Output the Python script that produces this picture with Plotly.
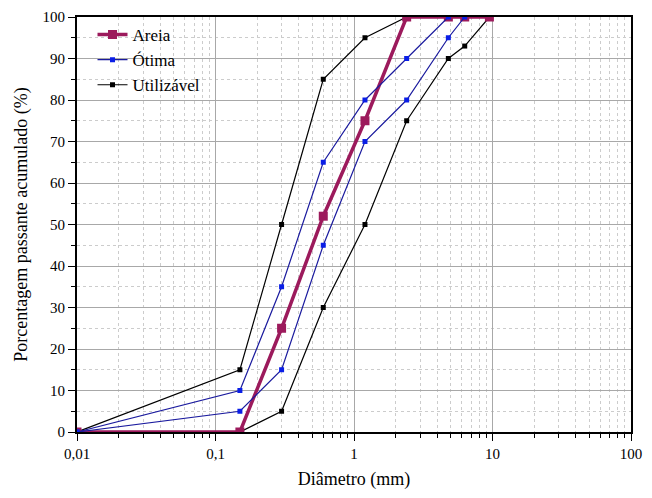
import plotly.graph_objects as go

# Data
areia_x = [0.01, 0.15, 0.3, 0.6, 1.2, 2.4, 4.8, 6.3, 9.5]
areia_y = [0, 0, 25, 52, 75, 100, 100, 100, 100]

otima_inf_x = [0.01, 0.15, 0.3, 0.6, 1.2, 2.4, 4.8, 6.3]
otima_inf_y = [0, 5, 15, 45, 70, 80, 95, 100]
otima_sup_x = [0.01, 0.15, 0.3, 0.6, 1.2, 2.4, 4.8]
otima_sup_y = [0, 10, 35, 65, 80, 90, 100]

util_inf_x = [0.01, 0.15, 0.3, 0.6, 1.2, 2.4, 4.8, 6.3, 9.5]
util_inf_y = [0, 0, 5, 30, 50, 75, 90, 93, 100]
util_sup_x = [0.01, 0.15, 0.3, 0.6, 1.2, 2.4]
util_sup_y = [0, 15, 50, 85, 95, 100]

x_tickvals = [0.01, 0.1, 1, 10, 100]
x_ticktext = ["0,01", "0,1", "1", "10", "100"]
y_tickvals = list(range(0, 101, 10))

PURPLE = "#9C1A5C"
BLUE_LINE = "#1A1A9E"
BLUE_MK = "#0A1EE6"

fig = go.Figure()

fig.add_trace(go.Scatter(x=util_sup_x, y=util_sup_y, mode="lines+markers", name="Utilizável",
                         legendgroup="u", legendrank=3,
                         line=dict(color="black", width=1.2),
                         marker=dict(symbol="square", size=5, color="black")))
fig.add_trace(go.Scatter(x=util_inf_x, y=util_inf_y, mode="lines+markers", name="Utilizável",
                         legendgroup="u", showlegend=False,
                         line=dict(color="black", width=1.2),
                         marker=dict(symbol="square", size=5, color="black")))
fig.add_trace(go.Scatter(x=areia_x, y=areia_y, mode="lines+markers", name="Areia",
                         legendrank=1,
                         line=dict(color=PURPLE, width=3.5),
                         marker=dict(symbol="square", size=9, color=PURPLE)))
fig.add_trace(go.Scatter(x=otima_sup_x, y=otima_sup_y, mode="lines+markers", name="Ótima",
                         legendgroup="o", legendrank=2,
                         line=dict(color=BLUE_LINE, width=1.2),
                         marker=dict(symbol="square", size=5, color=BLUE_MK)))
fig.add_trace(go.Scatter(x=otima_inf_x, y=otima_inf_y, mode="lines+markers", name="Ótima",
                         legendgroup="o", showlegend=False,
                         line=dict(color=BLUE_LINE, width=1.2),
                         marker=dict(symbol="square", size=5, color=BLUE_MK)))

font_family = "Liberation Serif"

# the page body adds an 8px margin on every side; size the figure so nothing scrolls
fig.update_layout(
    width=644, height=482,
    margin=dict(l=69, r=21, t=9, b=58),
    paper_bgcolor="white", plot_bgcolor="white",
    font=dict(family=font_family, size=15, color="black"),
    showlegend=True,
    legend=dict(x=0.028, y=1.0, xanchor="left", yanchor="top",
                bgcolor="rgba(0,0,0,0)", font=dict(size=17, family=font_family),
                tracegroupgap=0, itemwidth=30),
)

fig.update_xaxes(
    type="log", range=[-2, 2], automargin=False,
    tickvals=x_tickvals, ticktext=x_ticktext,
    ticks="outside", ticklen=7, tickwidth=1.2, tickcolor="black",
    showline=True, linecolor="black", linewidth=2, mirror=True,
    showgrid=True, gridcolor="#A8A8A8", gridwidth=1,
    zeroline=False,
    title=dict(text="Diâmetro (mm)", font=dict(size=18, family=font_family), standoff=21),
    tickfont=dict(size=15, family=font_family),
    minor=dict(ticks="outside", ticklen=4, tickwidth=1, tickcolor="black",
               dtick="D1", showgrid=True, gridcolor="#CCCCCC", griddash="dot", gridwidth=1),
)

fig.update_yaxes(
    range=[0, 100], automargin=False,
    tickvals=y_tickvals,
    ticks="outside", ticklen=7, tickwidth=1.2, tickcolor="black",
    showline=True, linecolor="black", linewidth=2, mirror=True,
    showgrid=True, gridcolor="#A8A8A8", gridwidth=1,
    zeroline=False,
    title=dict(text="Porcentagem passante acumulado (%)", font=dict(size=18, family=font_family), standoff=10),
    tickfont=dict(size=15, family=font_family),
    minor=dict(ticks="outside", ticklen=4, tickwidth=1, tickcolor="black",
               dtick=5, showgrid=True, gridcolor="#CCCCCC", griddash="dot", gridwidth=1),
)

fig.write_html("out.html")
